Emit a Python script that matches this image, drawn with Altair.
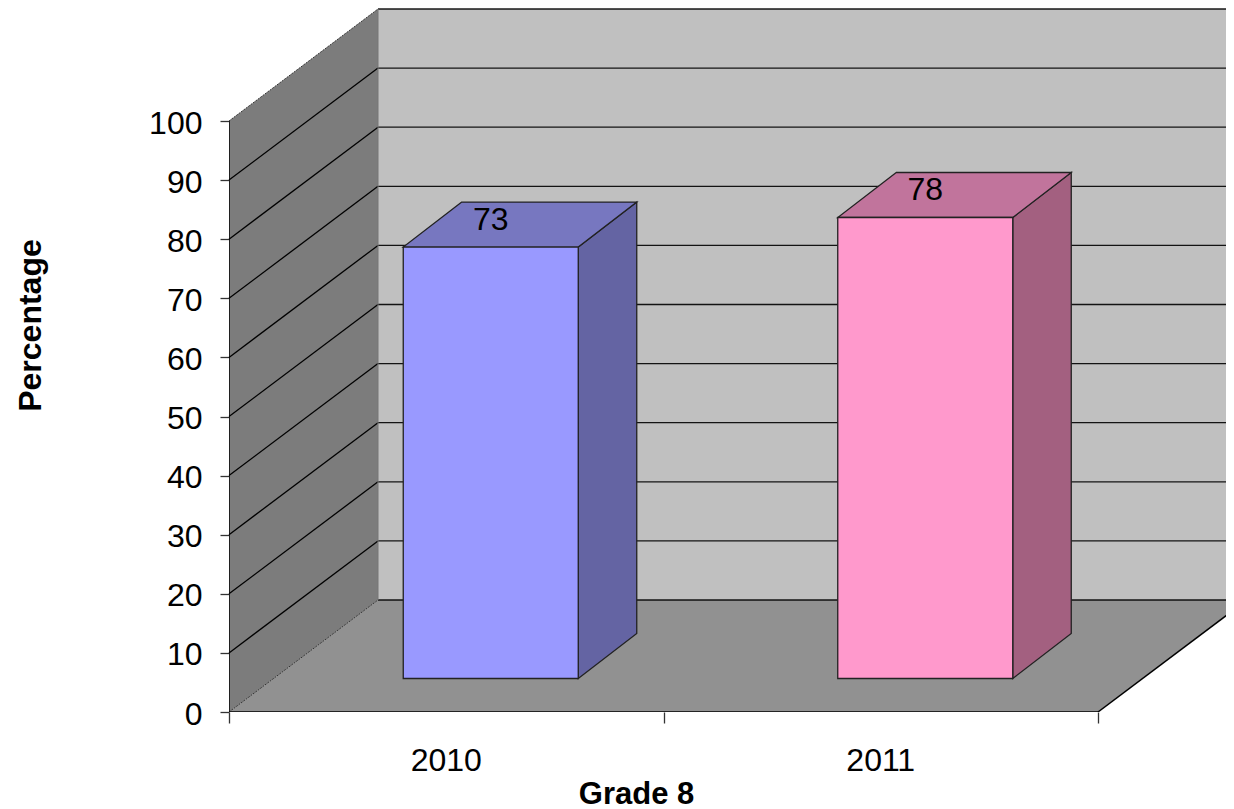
import altair as alt
import pandas as pd

categories = ["2010", "2011"]
values = [73, 78]
front_colors = ["#9999ff", "#ff99cc"]
top_colors = ["#7777c0", "#c1749c"]
side_colors = ["#6464a3", "#a36080"]
y_ticks = list(range(0, 101, 10))
x_ticks = [0, 1, 2]

# Pseudo-3D geometry in data units
PLOT_W = 997
X_MAX = PLOT_W / 434.5
Y_MAX = 703 / 5.91
DX, DY = 149 / 434.5, 112 / 5.91      # full floor depth
FX, FY = 44.5 / 434.5, 33.5 / 5.91    # bar front offset
BX, BY = 103 / 434.5, 78.5 / 5.91     # bar back offset
HALF = 87.5 / 434.5
FONT = "Liberation Sans"
EDGE = "#222222"

xs = alt.Scale(domain=[0, X_MAX], nice=False, zero=False)
ys = alt.Scale(domain=[0, Y_MAX], nice=False, zero=False)

# axes (same definition in every layer so that they merge into one)
axis_style = dict(domain=False, grid=False, labelFont=FONT, labelColor="#000000", tickColor="#333333",
                  tickWidth=1.3, titleFont=FONT, titleColor="#000000", titleFontWeight="bold")
y_axis = alt.Axis(values=y_ticks, format="d", labelFontSize=32, tickSize=9, labelPadding=18, labelOffset=2,
                  title="Percentage", titleFontSize=32, titleX=-199, titleY=316, titleAngle=270,
                  titleBaseline="middle", titleAlign="center", **axis_style)
x_axis = alt.Axis(values=x_ticks, labels=False, tickSize=11, title="Grade 8", titleFontSize=31,
                  titleX=407, titleY=82, titleBaseline="middle", titleAlign="center", **axis_style)
X = lambda f="x": alt.X(f"{f}:Q", scale=xs, axis=x_axis)
Y = lambda f="y": alt.Y(f"{f}:Q", scale=ys, axis=y_axis)

# walls and floor
back = alt.Chart(pd.DataFrame([dict(x=DX, x2=X_MAX, y=DY, y2=100 + DY)])).mark_rect(color="#c0c0c0").encode(
    x=X(), x2="x2:Q", y=Y(), y2="y2:Q")
left = alt.Chart(pd.DataFrame([dict(x=0, y=0, y2=100), dict(x=DX, y=DY, y2=100 + DY)])).mark_area(
    color="#7c7c7c", orient="vertical").encode(x=X(), y=Y(), y2="y2:Q")
floor = alt.Chart(pd.DataFrame([dict(y=0, x=0, x2=2), dict(y=DY, x=DX, x2=2 + DX)])).mark_area(
    color="#919191", orient="horizontal", clip=True).encode(y=Y(), x=X(), x2="x2:Q")

# gridlines
back_grid = alt.Chart(pd.DataFrame([dict(x=DX, x2=X_MAX, y=v + DY, y2=v + DY) for v in y_ticks])).mark_rule(
    color="#000000", strokeWidth=1.3, opacity=0.9).encode(x=X(), x2="x2:Q", y=Y(), y2="y2:Q")
left_grid = alt.Chart(pd.DataFrame([dict(x=0, x2=DX, y=v, y2=v + DY) for v in y_ticks[1:-1]])).mark_rule(
    color="#000000", strokeWidth=1.3).encode(x=X(), x2="x2:Q", y=Y(), y2="y2:Q")
left_edges = alt.Chart(pd.DataFrame([dict(x=0, x2=DX, y=v, y2=v + DY) for v in [0, 100]])).mark_rule(
    color="#333333", strokeWidth=1, strokeDash=[2, 1]).encode(x=X(), x2="x2:Q", y=Y(), y2="y2:Q")
frame = alt.Chart(pd.DataFrame([
    dict(x=0, x2=0, y=0, y2=100),
    dict(x=0, x2=2, y=0, y2=0),
    dict(x=2, x2=2 + DX, y=0, y2=DY),
])).mark_rule(color="#000000", strokeWidth=1.5, clip=True).encode(x=X(), x2="x2:Q", y=Y(), y2="y2:Q")
wall_edge = alt.Chart(pd.DataFrame([dict(x=DX, x2=DX, y=DY, y2=100 + DY)])).mark_rule(
    color="#777777", strokeWidth=1).encode(x=X(), x2="x2:Q", y=Y(), y2="y2:Q")

layers = [back, left, floor, back_grid, left_grid, wall_edge, left_edges, frame]

# bars
for i, (v, fc, tc, sc) in enumerate(zip(values, front_colors, top_colors, side_colors)):
    c = i + 0.5
    l, r = c - HALF + FX, c + HALF + FX
    side = alt.Chart(pd.DataFrame([
        dict(x=r, y=FY, y2=FY + v),
        dict(x=c + HALF + BX, y=BY, y2=BY + v),
    ])).mark_area(color=sc, orient="vertical", stroke=EDGE, strokeWidth=1.3).encode(
        x=X(), y=Y(), y2="y2:Q")
    top = alt.Chart(pd.DataFrame([
        dict(y=FY + v, x=l, x2=r),
        dict(y=BY + v, x=c - HALF + BX, x2=c + HALF + BX),
    ])).mark_area(color=tc, orient="horizontal", stroke=EDGE, strokeWidth=1.3).encode(
        y=Y(), x=X(), x2="x2:Q")
    front = alt.Chart(pd.DataFrame([dict(x=l, x2=r, y=FY, y2=FY + v)])).mark_rect(
        color=fc, stroke=EDGE, strokeWidth=1.3).encode(x=X(), x2="x2:Q", y=Y(), y2="y2:Q")
    label = alt.Chart(pd.DataFrame([dict(x=c + FX, y=FY + v + 4.6, t=str(v))])).mark_text(
        font=FONT, fontSize=32, color="#000000", baseline="middle", align="center").encode(
        x=X(), y=Y(), text="t:N")
    layers += [side, top, front, label]

cat_labels = alt.Chart(pd.DataFrame({"x": [0.5, 1.5], "y": [0, 0], "t": categories})).mark_text(
    font=FONT, fontSize=32, color="#000000", baseline="middle", dy=49).encode(x=X(), y=Y(), text="t:N")
layers.append(cat_labels)

chart = alt.layer(*layers).properties(
    width=PLOT_W, height=703,
    autosize=alt.AutoSizeParams(type="none"),
    padding={"left": 221, "top": 1, "right": 0, "bottom": 97},
).configure_view(stroke=None)

chart.save("out.html", embed_options={"renderer": "svg", "actions": False})
